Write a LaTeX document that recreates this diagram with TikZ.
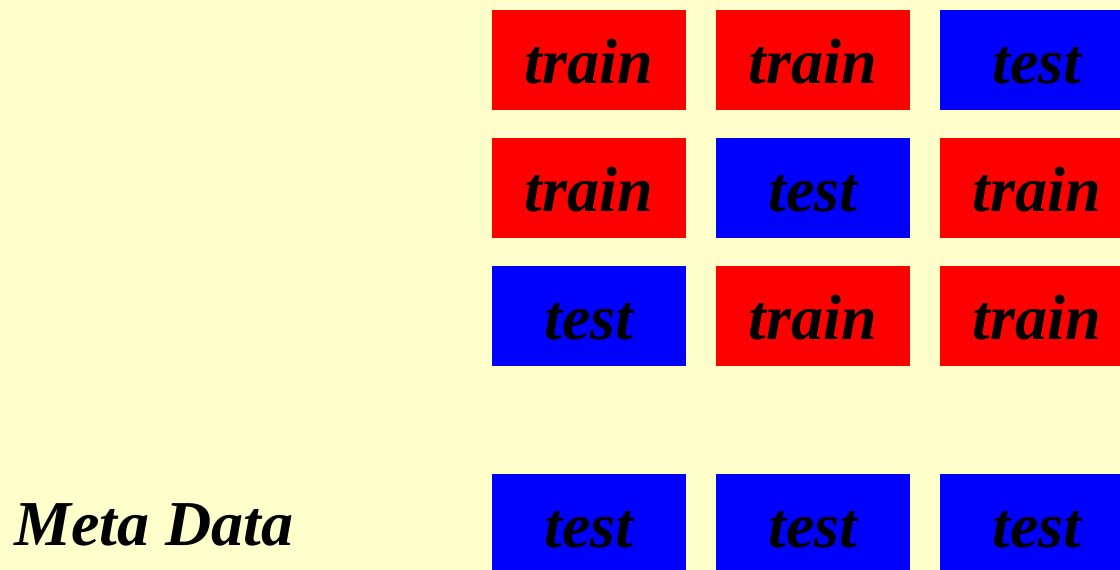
\documentclass[tikz,border=0pt]{standalone}
\usepackage{fontspec}
\setmainfont{Liberation Serif}
\definecolor{bg}{HTML}{FFFFCC}
\definecolor{trainred}{HTML}{FF0000}
\definecolor{testblue}{HTML}{0000FF}
\begin{document}
\begin{tikzpicture}[x=1pt,y=-1pt,
  cell/.style={rectangle,inner sep=0pt,minimum width=194pt,minimum height=100pt,
    text height=47pt,text depth=0pt,font=\fontsize{64}{72}\selectfont\bfseries\itshape},
  trainbox/.style={cell,fill=trainred},
  testbox/.style={cell,fill=testblue}]
\useasboundingbox (0,0) rectangle (1120,570);
\fill[bg] (0,0) rectangle (1120,570);
\begin{scope}
\clip (0,0) rectangle (1120,570);
\node[trainbox] (r1c1) at (589,60) {train};
\node[trainbox] (r1c2) at (813,60) {train};
\node[testbox]  (r1c3) at (1037,60) {test};
\node[trainbox] (r2c1) at (589,188) {train};
\node[testbox]  (r2c2) at (813,188) {test};
\node[trainbox] (r2c3) at (1037,188) {train};
\node[testbox]  (r3c1) at (589,316) {test};
\node[trainbox] (r3c2) at (813,316) {train};
\node[trainbox] (r3c3) at (1037,316) {train};
\node[testbox]  (r4c1) at (589,524) {test};
\node[testbox]  (r4c2) at (813,524) {test};
\node[testbox]  (r4c3) at (1037,524) {test};
\end{scope}
\node[anchor=base west,inner sep=0pt,font=\fontsize{64}{72}\selectfont\bfseries\itshape] (meta) at (14,545) {Meta Data};
\end{tikzpicture}
\end{document}
